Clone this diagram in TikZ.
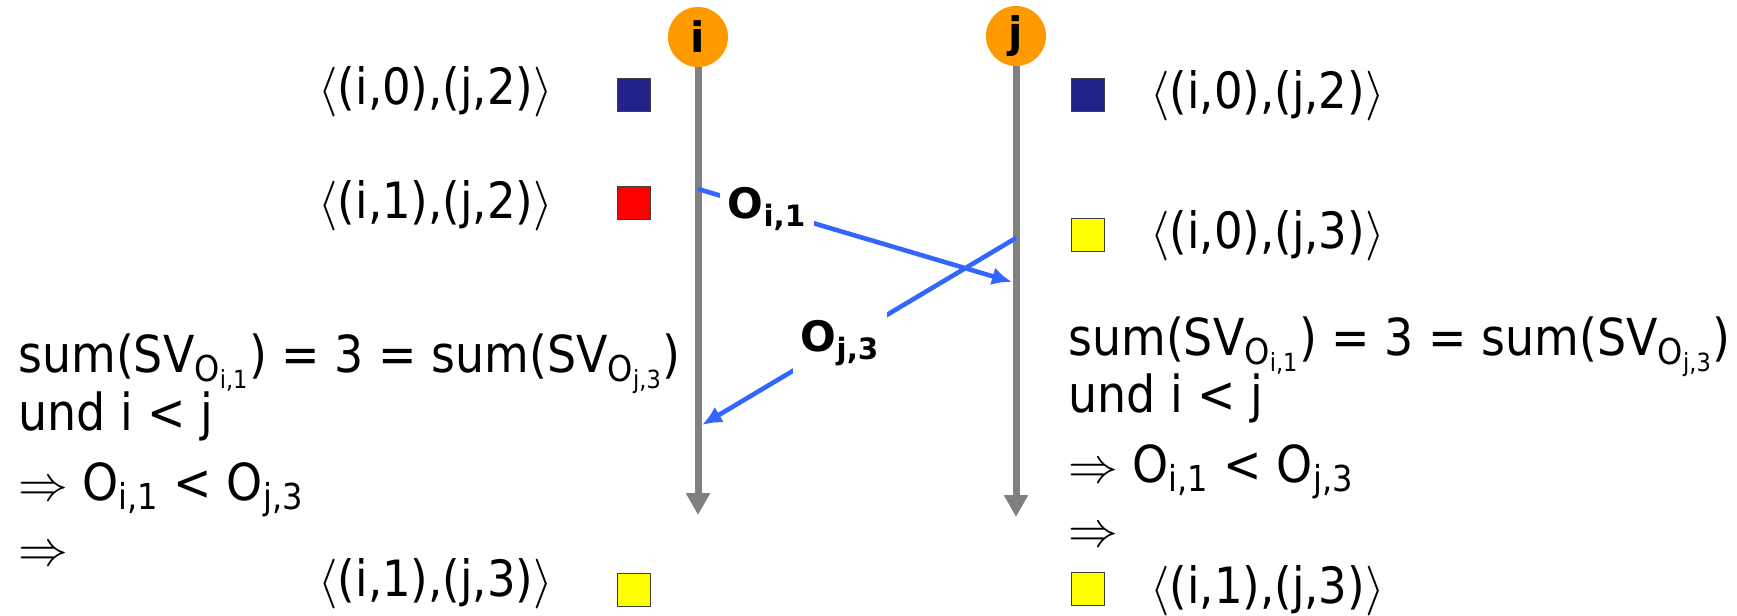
\documentclass[tikz,border=0pt]{standalone}
\usepackage{fontspec}
\setmainfont{DejaVu Sans Condensed}
\newfontfamily\widefont{DejaVu Sans}
\usetikzlibrary{arrows.meta,positioning}
\definecolor{LifeGray}{HTML}{808080}
\definecolor{ProcOrange}{HTML}{FF9900}
\definecolor{MsgBlue}{HTML}{3366FF}
\definecolor{CutNavy}{HTML}{222288}
\definecolor{CutRed}{HTML}{FF0000}
\definecolor{CutYellow}{HTML}{FFFF00}
\newcommand{\cutpair}[2]{$\langle$(i,#1),(j,#2)$\rangle$}
\newcommand{\osub}[2]{O\textsubscript{#1,#2}}
\newcommand{\impl}{$\Rightarrow$}
\tikzset{
 proc/.style={circle,fill=ProcOrange,minimum size=30pt,inner sep=0pt,font=\widefont\fontsize{21}{21}\selectfont\bfseries},
 life/.style={draw=LifeGray,line width=3.5pt,-{Triangle[width=11.5pt,length=11pt]}},
 msg/.style={draw=MsgBlue,line width=2.3pt,-{Latex[length=10pt,width=9pt]}},
 msglabel/.style={fill=white,inner sep=4pt,font=\widefont\fontsize{21}{21}\selectfont\bfseries},
 cutbox/.style={draw=black!75,line width=0.5pt,minimum size=16.5pt,inner sep=0pt},
 cutlabel/.style={inner sep=0pt,font=\fontsize{25}{26}\selectfont},
 proof/.style={inner sep=0pt,anchor=base west,font=\fontsize{25.5}{26}\selectfont}
}
\begin{document}
\begin{tikzpicture}[x=0.5pt,y=-0.5pt,>=Latex]
\useasboundingbox (0,0) rectangle (1737,616);
% processes and lifelines
\node[proc] (pi) at (698,37) {i};
\node[proc] (pj) at (1016,36) {j};
\coordinate (iend) at (698,515);
\coordinate (jend) at (1016,517);
\draw[life] (pi.south) -- (iend);
\draw[life] (pj.south) -- (jend);
% messages
\coordinate (si) at (698,189);
\coordinate (rj) at (1012,282);
\coordinate (sj) at (1016,238);
\coordinate (ri) at (702,425);
\draw[msg] (si) -- node[msglabel,pos=0.22] (mi) {\osub{i}{1}} (rj);
\draw[msg] (sj) -- node[msglabel,pos=0.56] (mj) {\osub{j}{3}} (ri);
% cuts of process i
\node[cutbox,fill=CutNavy] (ci0) at (634,95) {};
\node[cutbox,fill=CutRed] (ci1) at (634,203) {};
\node[cutbox,fill=CutYellow] (ci2) at (634,590) {};
\node[cutlabel,anchor=base east] (ti0) at (553,104) {\cutpair{0}{2}};
\node[cutlabel,anchor=base east] (ti1) at (553,218) {\cutpair{1}{2}};
\node[cutlabel,anchor=base east] (ti2) at (553,596) {\cutpair{1}{3}};
% cuts of process j
\node[cutbox,fill=CutNavy] (cj0) at (1088,95) {};
\node[cutbox,fill=CutYellow] (cj1) at (1088,235) {};
\node[cutbox,fill=CutYellow] (cj2) at (1088,589) {};
\node[cutlabel,anchor=base west] (tj0) at (1150,108) {\cutpair{0}{2}};
\node[cutlabel,anchor=base west] (tj1) at (1150,248) {\cutpair{0}{3}};
\node[cutlabel,anchor=base west] (tj2) at (1150,603) {\cutpair{1}{3}};
% reasoning at i
\node[proof] (ai1) at (18,372) {sum(SV\textsubscript{\osub{i}{1}}) = 3 = sum(SV\textsubscript{\osub{j}{3}})};
\node[proof] (ai2) at (18,430) {und i < j};
\node[proof] (ai3) at (18,500) {\impl{} \osub{i}{1} < \osub{j}{3}};
\node[proof] (ai4) at (18,565) {\impl};
% reasoning at j
\node[proof] (aj1) at (1068,355) {sum(SV\textsubscript{\osub{i}{1}}) = 3 = sum(SV\textsubscript{\osub{j}{3}})};
\node[proof] (aj2) at (1068,412) {und i < j};
\node[proof] (aj3) at (1068,482) {\impl{} \osub{i}{1} < \osub{j}{3}};
\node[proof] (aj4) at (1068,546) {\impl};
\end{tikzpicture}
\end{document}
